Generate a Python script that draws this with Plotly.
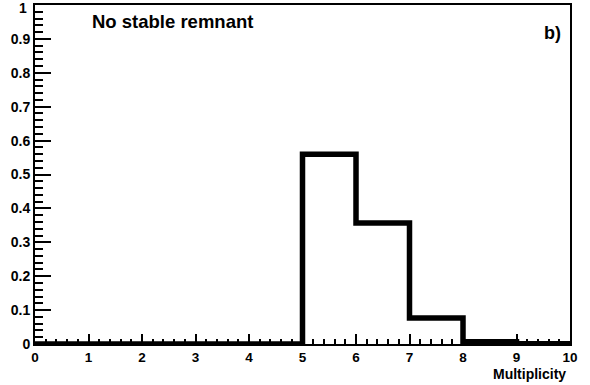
import plotly.graph_objects as go

# Histogram data: bin edges and contents
bin_edges = [0, 1, 2, 3, 4, 5, 6, 7, 8, 9, 10]
bin_values = [0, 0, 0, 0, 0, 0.56, 0.357, 0.077, 0.007, 0.001]
y_tick_vals = [0, 0.1, 0.2, 0.3, 0.4, 0.5, 0.6, 0.7, 0.8, 0.9, 1]
y_tick_text = ["0", "0.1", "0.2", "0.3", "0.4", "0.5", "0.6", "0.7", "0.8", "0.9", ""]
x_tick_vals = [0, 1, 2, 3, 4, 5, 6, 7, 8, 9, 10]

FONT = "Liberation Sans, Arial, sans-serif"

# step outline: hv shape, repeat last value at final edge
xs = list(bin_edges)
ys = list(bin_values) + [bin_values[-1]]

fig = go.Figure()
fig.add_trace(go.Scatter(
    x=xs, y=ys, mode="lines", line=dict(shape="hv", color="black", width=5.5),
    showlegend=False, hoverinfo="skip",
))

fig.update_layout(
    width=590, height=385,
    margin=dict(l=35, r=20, t=3, b=41),
    paper_bgcolor="white", plot_bgcolor="white",
    font=dict(family=FONT, color="black"),
    xaxis=dict(
        range=[0, 10], showgrid=False, zeroline=False,
        showline=True, linecolor="black", linewidth=2, mirror=True,
        tickmode="array", tickvals=x_tick_vals,
        ticks="inside", ticklen=10, tickwidth=1.5, tickcolor="black",
        tickfont=dict(family=FONT, size=13.5, weight="bold", color="black"),
        minor=dict(ticks="inside", ticklen=5, tickwidth=1.5, tickcolor="black", dtick=0.2, showgrid=False),
    ),
    yaxis=dict(
        range=[0, 1], showgrid=False, zeroline=False,
        showline=True, linecolor="black", linewidth=2, mirror=True,
        tickmode="array", tickvals=y_tick_vals, ticktext=y_tick_text,
        ticks="inside", ticklen=16, tickwidth=1.5, tickcolor="black",
        tickfont=dict(family=FONT, size=14, weight="bold", color="black"),
        minor=dict(ticks="inside", ticklen=8, tickwidth=1.5, tickcolor="black", dtick=0.02, showgrid=False),
    ),
    annotations=[
        dict(text="1", xref="paper", yref="paper", x=-6/535, y=(344-6)/341,
             xanchor="right", yanchor="middle", showarrow=False,
             font=dict(family=FONT, size=14, weight="bold", color="black")),
        dict(text="No stable remnant", xref="paper", yref="paper", x=(90-35)/535, y=(344-20)/341,
             xanchor="left", yanchor="middle", showarrow=False,
             font=dict(family=FONT, size=18.5, weight="bold", color="black")),
        dict(text="b)", xref="paper", yref="paper", x=(563-35)/535, y=(344-31)/341,
             xanchor="right", yanchor="middle", showarrow=False,
             font=dict(family=FONT, size=18, weight="bold", color="black")),
        dict(text="Multiplicity", xref="paper", yref="paper", x=(568-35)/535, y=(344-374)/341,
             xanchor="right", yanchor="middle", showarrow=False,
             font=dict(family=FONT, size=14, weight="bold", color="black")),
    ],
)

fig.write_html("out.html")
